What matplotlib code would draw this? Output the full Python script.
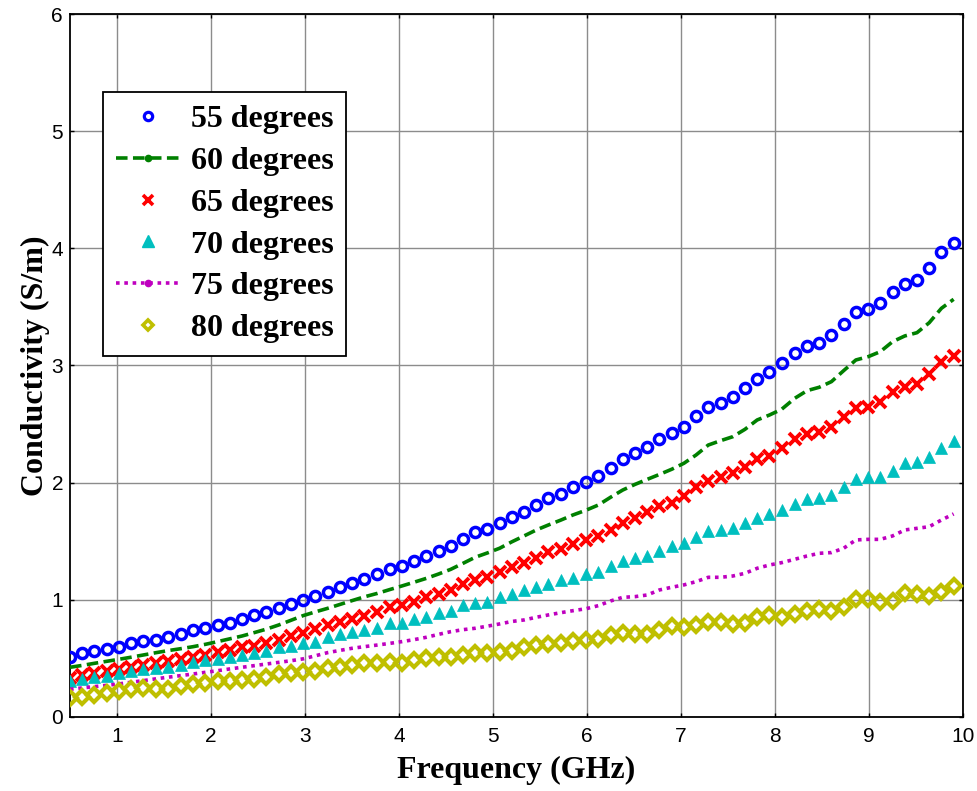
import matplotlib
matplotlib.use("Agg")
import matplotlib.pyplot as plt
from matplotlib.lines import Line2D

freq = [0.50, 0.63, 0.76, 0.89, 1.02, 1.15, 1.28, 1.41, 1.54, 1.68,
        1.81, 1.94, 2.07, 2.20, 2.33, 2.46, 2.59, 2.72, 2.85, 2.98,
        3.11, 3.24, 3.37, 3.50, 3.63, 3.77, 3.90, 4.03, 4.16, 4.29,
        4.42, 4.55, 4.68, 4.81, 4.94, 5.07, 5.20, 5.33, 5.46, 5.59,
        5.72, 5.85, 5.99, 6.12, 6.25, 6.38, 6.51, 6.64, 6.77, 6.90,
        7.03, 7.16, 7.29, 7.42, 7.55, 7.68, 7.81, 7.94, 8.07, 8.21,
        8.34, 8.47, 8.60, 8.73, 8.86, 8.99, 9.12, 9.25, 9.38, 9.51,
        9.64, 9.77, 9.90]

deg55 = [0.515, 0.549, 0.566, 0.580, 0.600, 0.634, 0.649, 0.657, 0.685, 0.708,
         0.740, 0.760, 0.782, 0.805, 0.834, 0.868, 0.899, 0.927, 0.964, 1.000,
         1.033, 1.070, 1.107, 1.141, 1.181, 1.218, 1.260, 1.292, 1.334, 1.374,
         1.420, 1.459, 1.516, 1.579, 1.607, 1.659, 1.710, 1.753, 1.812, 1.872,
         1.906, 1.960, 2.003, 2.054, 2.128, 2.199, 2.250, 2.307, 2.373, 2.421,
         2.478, 2.569, 2.643, 2.680, 2.731, 2.805, 2.886, 2.944, 3.018, 3.109,
         3.166, 3.195, 3.260, 3.354, 3.459, 3.482, 3.536, 3.630, 3.693, 3.730,
         3.829, 3.971, 4.043]

deg60 = [0.424, 0.440, 0.458, 0.475, 0.492, 0.510, 0.529, 0.548, 0.566, 0.583,
         0.600, 0.620, 0.643, 0.667, 0.691, 0.720, 0.750, 0.785, 0.825, 0.865,
         0.897, 0.927, 0.960, 0.993, 1.025, 1.055, 1.087, 1.118, 1.150, 1.183,
         1.220, 1.260, 1.311, 1.363, 1.400, 1.440, 1.495, 1.545, 1.596, 1.639,
         1.680, 1.724, 1.765, 1.809, 1.875, 1.937, 1.985, 2.028, 2.070, 2.114,
         2.165, 2.236, 2.321, 2.358, 2.392, 2.455, 2.535, 2.577, 2.626, 2.720,
         2.785, 2.814, 2.862, 2.956, 3.047, 3.075, 3.118, 3.203, 3.252, 3.280,
         3.365, 3.488, 3.565]

deg65 = [0.330, 0.358, 0.373, 0.395, 0.412, 0.424, 0.441, 0.458, 0.481, 0.498,
         0.515, 0.526, 0.552, 0.572, 0.595, 0.606, 0.634, 0.657, 0.691, 0.714,
         0.748, 0.785, 0.808, 0.834, 0.862, 0.899, 0.936, 0.956, 0.984, 1.027,
         1.047, 1.084, 1.135, 1.169, 1.198, 1.235, 1.278, 1.316, 1.354, 1.411,
         1.431, 1.476, 1.511, 1.545, 1.596, 1.659, 1.701, 1.747, 1.801, 1.829,
         1.886, 1.960, 2.014, 2.045, 2.080, 2.136, 2.199, 2.228, 2.293, 2.370,
         2.413, 2.435, 2.478, 2.563, 2.635, 2.649, 2.691, 2.777, 2.814, 2.842,
         2.927, 3.027, 3.084]

deg70 = [0.310, 0.321, 0.339, 0.350, 0.373, 0.395, 0.407, 0.415, 0.429, 0.444,
         0.469, 0.486, 0.498, 0.509, 0.526, 0.549, 0.566, 0.595, 0.606, 0.634,
         0.643, 0.680, 0.708, 0.728, 0.743, 0.762, 0.800, 0.805, 0.834, 0.856,
         0.885, 0.907, 0.953, 0.970, 0.984, 1.021, 1.050, 1.081, 1.110, 1.135,
         1.169, 1.183, 1.220, 1.240, 1.289, 1.334, 1.354, 1.374, 1.420, 1.459,
         1.482, 1.533, 1.590, 1.596, 1.610, 1.653, 1.700, 1.733, 1.767, 1.818,
         1.858, 1.866, 1.895, 1.960, 2.028, 2.051, 2.051, 2.102, 2.165, 2.179,
         2.222, 2.293, 2.358]

deg75 = [0.236, 0.248, 0.259, 0.270, 0.282, 0.296, 0.310, 0.325, 0.339, 0.353,
         0.367, 0.381, 0.395, 0.410, 0.424, 0.438, 0.452, 0.466, 0.480, 0.496,
         0.522, 0.549, 0.568, 0.586, 0.600, 0.614, 0.628, 0.643, 0.660, 0.680,
         0.705, 0.728, 0.745, 0.757, 0.775, 0.794, 0.815, 0.828, 0.851, 0.871,
         0.890, 0.907, 0.924, 0.950, 0.990, 1.021, 1.027, 1.041, 1.084, 1.107,
         1.127, 1.155, 1.192, 1.192, 1.203, 1.226, 1.269, 1.297, 1.317, 1.346,
         1.374, 1.397, 1.403, 1.440, 1.511, 1.516, 1.516, 1.545, 1.596, 1.610,
         1.624, 1.681, 1.733]

deg80 = [0.165, 0.174, 0.190, 0.205, 0.218, 0.236, 0.245, 0.238, 0.238, 0.268,
         0.285, 0.293, 0.303, 0.310, 0.318, 0.326, 0.345, 0.365, 0.375, 0.382,
         0.395, 0.415, 0.424, 0.444, 0.458, 0.464, 0.472, 0.464, 0.486, 0.501,
         0.509, 0.515, 0.529, 0.549, 0.549, 0.558, 0.566, 0.593, 0.610, 0.623,
         0.629, 0.651, 0.657, 0.663, 0.700, 0.720, 0.708, 0.708, 0.743, 0.777,
         0.765, 0.785, 0.814, 0.814, 0.794, 0.805, 0.851, 0.871, 0.856, 0.879,
         0.907, 0.919, 0.907, 0.936, 1.004, 1.004, 0.984, 0.993, 1.061, 1.047,
         1.033, 1.070, 1.118]

labels = ["55 degrees", "60 degrees", "65 degrees", "70 degrees",
          "75 degrees", "80 degrees"]

c_blue = (0, 0, 1)
c_green = (0, 0.5, 0)
c_red = (1, 0, 0)
c_cyan = (0, 0.75, 0.75)
c_mag = (0.75, 0, 0.75)
c_yel = (0.75, 0.75, 0)

dash60 = (0, (3.2, 1.5))
dot75 = (0, (1, 1.3))

fig = plt.figure(figsize=(9.78, 7.91), dpi=100)
ax = fig.add_axes([0.0716, 0.0936, 0.9131, 0.8887])

ax.grid(True, color=(0.55, 0.55, 0.55), linewidth=1.0, zorder=0)
ax.set_axisbelow(True)

ax.plot(freq, deg55, linestyle='none', marker='o', ms=7.3, mfc='none',
        mec=c_blue, mew=2.5, zorder=3)
ax.plot(freq, deg60, linestyle=dash60, color=c_green, lw=2.6, zorder=3)
ax.plot(freq, deg65, linestyle='none', marker='x', ms=9, mec=c_red,
        mew=2.8, zorder=3)
ax.plot(freq, deg70, linestyle='none', marker='^', ms=9, mfc=c_cyan,
        mec=c_cyan, mew=0.5, zorder=3)
ax.plot(freq, deg75, linestyle=dot75, color=c_mag, lw=2.6, zorder=3)
ax.plot(freq, deg80, linestyle='none', marker='D', ms=6.8, mfc='none',
        mec=c_yel, mew=3.0, zorder=3)

ax.set_xlim(0.5, 10)
ax.set_ylim(0, 6)
ax.set_xticks(range(1, 11))
ax.set_yticks(range(0, 7))

tick_font = ['Liberation Sans', 'DejaVu Sans']
for lab in ax.get_xticklabels() + ax.get_yticklabels():
    lab.set_fontfamily(tick_font)
    lab.set_fontsize(15)
ax.tick_params(direction='in', length=3, width=1.0, top=True, right=True,
               colors='black')
ax.tick_params(axis='x', pad=7)
ax.tick_params(axis='y', pad=5)
for sp in ax.spines.values():
    sp.set_linewidth(1.3)
    sp.set_color('black')

label_font = dict(family='Liberation Serif', weight='bold', size=23)
ax.set_xlabel("Frequency (GHz)", fontdict=label_font, labelpad=7)
ax.set_ylabel("Conductivity (S/m)", fontdict=label_font, labelpad=1)

handles = [
    Line2D([], [], linestyle='none', marker='o', ms=6, mfc='none', mec=c_blue, mew=2.3),
    Line2D([], [], linestyle=dash60, color=c_green, lw=2.6, marker='.', ms=9),
    Line2D([], [], linestyle='none', marker='x', ms=7, mec=c_red, mew=2.6),
    Line2D([], [], linestyle='none', marker='^', ms=8, mfc=c_cyan, mec=c_cyan),
    Line2D([], [], linestyle=dot75, color=c_mag, lw=2.6, marker='.', ms=9),
    Line2D([], [], linestyle='none', marker='D', ms=5.5, mfc='none', mec=c_yel, mew=2.6),
]
leg = ax.legend(handles, labels, loc='upper left', bbox_to_anchor=(0.037, 0.889),
                borderaxespad=0, frameon=True, fancybox=False, framealpha=1,
                edgecolor='black', handlelength=2.0, handletextpad=0.35,
                labelspacing=0.39, borderpad=0.4,
                prop=dict(family='Liberation Serif', weight='bold', size=23))
leg.get_frame().set_linewidth(1.3)
leg.set_zorder(5)

fig.savefig("out.png", dpi=100, facecolor='white')
